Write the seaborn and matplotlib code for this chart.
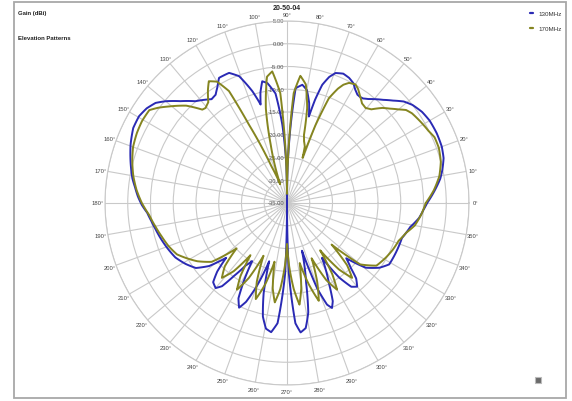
import numpy as np
import pandas as pd
import matplotlib
matplotlib.use("Agg")
import matplotlib.pyplot as plt
import seaborn as sns
from matplotlib.transforms import offset_copy
from matplotlib.patches import Rectangle

# ---------------- data ----------------
series_names = ["130MHz", "170MHz"]

angles_130 = [0, 3, 6, 9, 12, 16, 20, 25, 30, 34, 38, 41, 44, 47, 50, 52, 54, 55.5, 57, 59, 61,
              63.6, 66.5, 69.5, 71.5, 73.4, 74.8, 75.8, 77.5, 80, 82.6, 85.7, 87.3, 89, 90, 91,
              93.4, 96, 99.3, 101.5, 103.5, 105, 107.2, 110.7, 114, 118.5, 121, 123.4, 126, 128.2,
              132, 136.3, 140, 142.7, 146, 149.6, 154, 159.5, 163, 167, 171, 174, 177.5, 180.8,
              184, 187.5, 191, 194.5, 200, 206, 211, 215.5, 219, 222, 224.5, 227, 230, 232,
              234, 236.5, 239, 241, 243, 245.4, 247.5, 250, 253, 255.5, 258, 260.5, 263, 265.5,
              268.5, 270, 271.5, 274, 276, 278.5, 281, 283.5, 287.4, 289.5, 291.5, 293.2, 295,
              297.5, 302.5, 305, 307.5, 310, 312.5, 314.5, 317, 320.6, 325, 329, 336, 343, 349,
              353.5, 357, 360]
gain_130 = [-4.2, -3.1, -2.0, -0.9, -0.1, 0.8, 1.2, 1.3, 1.2, 0.8, 0.0, -1.0, -2.6, -4.0, -5.2,
            -6.0, -6.6, -6.7, -6.6, -5.9, -4.9,
            -4.3, -4.0, -4.5, -5.8, -7.9, -11.5, -15.4, -12.5, -9.8, -8.8, -9.7, -17.9, -27, -35, -27,
            -17.8, -10.8, -8.3, -7.7, -10.0, -12.6, -9.3, -5.2, -3.7, -3.7, -5.3, -6.5, -6.8, -6.1,
            -4.9, -2.6, -0.2, 1.3, 2.2, 2.7, 2.6, 1.7, 1.0, 0.2, -0.6, -1.4, -2.2, -3.1,
            -4.2, -4.9, -5.5, -6.0, -6.8, -7.7, -9.0, -10.4, -13, -17.0, -13.5, -11.2, -10.6, -11.8,
            -15.2, -18.5, -20.1, -15.5, -11.5, -9.7, -11.5, -15.5, -21.6, -14.5, -9.5, -7.0, -6.4, -8.5,
            -19.6, -35, -19.6, -8.5, -6.4, -7.2, -10.5, -17.0, -24.0, -15.0, -11.0, -9.9, -11.2,
            -15.0, -20.7, -15.0, -11.8, -11.0, -12.5, -15.0, -17.2, -12.6, -10.2, -8.8, -8.7, -8.6, -7.4,
            -5.8, -5.0, -4.2]

angles_170 = [0, 5, 10, 15, 20, 24, 27, 31, 35.7, 38, 40, 42.5, 44.9, 48, 50.4, 53, 56, 58, 60,
              62.7, 64.5, 66, 68.2, 69.9, 71, 72.5, 74.6, 76, 78, 81, 84, 86.5, 88.5, 90, 91.5, 93.5,
              96.4, 99, 102.6, 105.6, 110, 113, 115.9, 117.4, 120, 122.7, 125, 128, 130.6, 132.2,
              136, 140.7, 143.5, 146, 150.5, 155, 160, 165, 170, 175, 180, 185, 190, 195, 200, 205,
              213, 218, 222, 225.5, 229, 232, 235, 237.5, 240, 243, 246,
              249, 252, 255, 258, 260.5, 263, 265.5, 268, 270, 272, 274.5, 277, 279.5, 282, 285,
              288, 291, 294, 297, 300, 302.5, 305, 308, 311, 314, 317, 320, 325, 331, 336, 341.3,
              346, 350, 355, 360]
gain_170 = [-4.5, -2.6, -1.0, 0.0, 0.5, 0.5, -0.1, -0.6, -1.2, -1.8, -3.0, -4.3, -5.4, -7.3, -7.9,
            -7.6, -6.4, -5.5, -4.9,
            -5.3, -6.2, -7.5, -10.2, -16.8, -24.5, -22, -20.9, -19.6, -13.7, -8.6, -6.9, -10.8, -24,
            -33, -24, -10.8,
            -5.9, -6.9, -13.7, -21.7, -30.6, -26.2, -15.9, -7.3, -4.2, -3.2, -4.7, -6.9, -7.5, -7.3,
            -4.2, -1.5, 0.2, 1.5, 1.6, 1.4, 1.0, 0.2, -0.7, -1.8, -3.1, -4.6, -5.6, -6.5, -7.3, -8.3,
            -11.5, -14, -20.1, -15.5, -13.2, -16, -21, -16, -13.0, -16.5, -22.3,
            -16.5, -12.8, -16.5, -21.8, -16, -13, -16, -21, -26, -21, -16, -12.5, -16, -21.5, -16.5,
            -12.4, -16.5, -21.7, -16, -13, -16.5, -22.3, -16.5, -13.2, -16, -21.6, -14, -11, -10.2,
            -9.6, -9.1, -8.0, -6.5, -5.4, -4.5]

radial_ticks = [-35, -30, -25, -20, -15, -10, -5, 0, 5]
radial_labels = ["-35.00", "-30.00", "-25.00", "-20.00", "-15.00", "-10.00", "-5.00", "0.00", "5.00"]
angle_ticks = list(range(0, 360, 10))
angle_labels = [f"{a}\u00b0" for a in angle_ticks]
title_text = "20-50-04"
unit_text = "Gain (dBi)"
subtitle_text = "Elevation Patterns"

colors = {"130MHz": "#2a2ab4", "170MHz": "#858520"}

# ---------------- figure ----------------
sns.set_theme(style="white")
plt.rcParams["font.family"] = ["Liberation Sans", "DejaVu Sans"]

W, H = 572, 402
fig = plt.figure(figsize=(W / 100, H / 100), dpi=100)
cx, cy, R = 287, 204, 182
ax = fig.add_axes([(cx - R) / W, (H - cy - R) / H, 2 * R / W, 2 * R / H], projection="polar")

df = pd.concat([
    pd.DataFrame({"theta": np.deg2rad(angles_130), "gain": gain_130, "series": series_names[0]}),
    pd.DataFrame({"theta": np.deg2rad(angles_170), "gain": gain_170, "series": series_names[1]}),
], ignore_index=True)

sns.lineplot(data=df, x="theta", y="gain", hue="series", palette=colors, sort=False,
             estimator=None, linewidth=1.4, ax=ax, legend=True)

# draw each segment as a polar arc/spiral rather than a straight chord
for ln in ax.lines:
    ln.get_path()._interpolation_steps = 12
    ln._transformed_path = None

ax.set_ylim(-35, 5)
ax.set_xlabel("")
ax.set_ylabel("")
ax.set_thetagrids(angle_ticks, angle_labels, fontsize=4.2, color="#444444")
ax.tick_params(axis="x", pad=-2, length=0)
ax.set_rgrids(radial_ticks, labels=[""] * len(radial_ticks))
ax.tick_params(axis="y", length=0)
ax.grid(True, color="#c9c9c9", linewidth=0.8)
ax.spines["polar"].set_color("#c9c9c9")
ax.spines["polar"].set_linewidth(0.8)
ax.set_facecolor("white")

trans = offset_copy(ax.transData, fig=fig, x=-3, y=0, units="dots")
for r, lab in zip(radial_ticks, radial_labels):
    ax.text(np.pi / 2, r, lab, transform=trans, ha="right", va="center",
            fontsize=4.2, color="#555555", zorder=1)

leg = ax.get_legend()
leg.remove()
handles = [plt.Line2D([0], [0], color=colors[s], lw=1.6) for s in series_names]
fig.legend(handles, series_names, loc="upper left", bbox_to_anchor=(524 / W, 1 - 6 / H),
           frameon=False, fontsize=4.5, handlelength=0.6, handletextpad=0.8,
           labelspacing=1.6, labelcolor="#333333")

fig.text(cx / W, 1 - 9 / H, title_text, ha="center", va="center", fontsize=5,
         fontweight="bold", color="#222222")
fig.text(18 / W, 1 - 13 / H, unit_text, ha="left", va="center", fontsize=4.3,
         fontweight="bold", color="#222222")
fig.text(18 / W, 1 - 38 / H, subtitle_text, ha="left", va="center", fontsize=4.3,
         fontweight="bold", color="#222222")

fig.add_artist(Rectangle((14 / W, 3 / H), 552 / W, 396 / H, transform=fig.transFigure,
                         fill=False, edgecolor="#a8a8a8", linewidth=1.3))
fig.add_artist(Rectangle((535 / W, 1 - 384 / H), 6 / W, 6 / H, transform=fig.transFigure,
                         facecolor="#6a6a6a", edgecolor="#bbbbbb", linewidth=0.8))

fig.savefig("out.png", dpi=100, facecolor="white")
